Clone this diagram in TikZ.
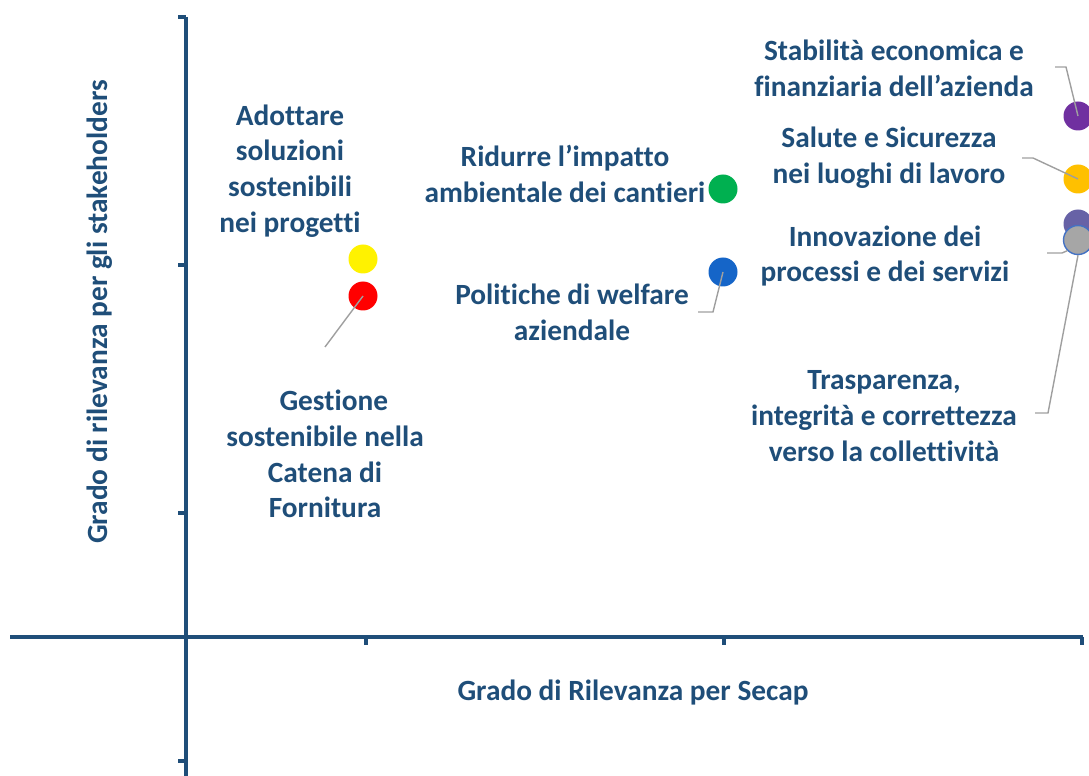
\documentclass[tikz,border=0pt]{standalone}
\usepackage{fontspec}
\setmainfont{Carlito}[Ligatures=NoCommon]
\definecolor{axisblue}{HTML}{1F4E79}
\definecolor{textblue}{HTML}{1F4E79}
\definecolor{dotpurple}{HTML}{7030A0}
\definecolor{dotorange}{HTML}{FFC000}
\definecolor{dotslate}{HTML}{6762A6}
\definecolor{dotgray}{HTML}{A6A6A6}
\definecolor{dotblue}{HTML}{1565C8}
\definecolor{dotgreen}{HTML}{00B050}
\definecolor{outlineblue}{HTML}{4472C4}

\tikzstyle{topic} = [align=center, text=textblue, font=\bfseries\fontsize{16.7}{20.3}\selectfont, inner sep=0pt]
\tikzstyle{bubble} = [circle, minimum size=0.58cm, inner sep=0pt]
\tikzstyle{leader} = [draw=gray!75, line width=0.8pt]
\tikzstyle{axis} = [draw=axisblue, line width=2.2pt]

\begin{document}
\begin{tikzpicture}[x=0.02cm, y=-0.02cm]
    \useasboundingbox (0,0) rectangle (1089,776);

    % Axes
    \draw [axis] (186,17) -- (186,776);
    \draw [axis] (10,637) -- (1083,637);
    \foreach \ty in {17,265,513,761}
        \draw [axis] (178,\ty) -- (186,\ty);
    \foreach \tx in {366,724,1082}
        \draw [axis] (\tx,637) -- (\tx,645);
    \node (xtitle) [topic] at (633,693) {Grado di Rilevanza per Secap};
    \node (ytitle) [topic, rotate=90] at (100,312) {Grado di rilevanza per gli stakeholders};

    % Nodes
    \node (yellow) [bubble, fill=yellow] at (363,259) {};
    \node (red) [bubble, fill=red] at (363,296) {};
    \node (green) [bubble, fill=dotgreen] at (723,189) {};
    \node (blue) [bubble, fill=dotblue] at (723,272) {};
    \node (purple) [bubble, fill=dotpurple] at (1078,116) {};
    \node (orange) [bubble, fill=dotorange] at (1078,179) {};
    \node (slate) [bubble, fill=dotslate] at (1078,224) {};
    \node (gray) [bubble, fill=dotgray, draw=outlineblue, line width=0.8pt] at (1078,240) {};

    \node (adottare) [topic] at (290,171) {Adottare\\soluzioni\\sostenibili\\nei progetti};
    \node (gestione) [topic] at (325,454) {\hspace*{0.6em}Gestione\\sostenibile nella\\Catena di\\Fornitura};
    \node (ridurre) [topic] at (565,174) {Ridurre l’impatto\\ambientale dei cantieri};
    \node (welfare) [topic] at (572,312) {Politiche di welfare\\aziendale};
    \node (stabilita) [topic] at (894,68) {Stabilità economica e\\finanziaria dell’azienda};
    \node (salute) [topic] at (889,158) {Salute e Sicurezza\\nei luoghi di lavoro};
    \node (innovazione) [topic] at (885,256) {Innovazione dei\\processi e dei servizi};
    \node (trasparenza) [topic] at (884,416) {Trasparenza,\\integrità e correttezza\\verso la collettività};

    % Leaders
    \coordinate (redend) at (325,347);
    \coordinate (blueend) at (698,312);
    \coordinate (purpleend) at (1055,67);
    \coordinate (orangeend) at (1022,158);
    \coordinate (grayend) at (1047,253);
    \coordinate (traspend) at (1035,413);

    \draw [leader] (red.center) -- (redend);
    \draw [leader] (blue.center) -- (713,312) -- (blueend);
    \draw [leader] (purple.center) -- (1066,67) -- (purpleend);
    \draw [leader] (orange.center) -- (1033,158) -- (orangeend);
    \draw [leader] (gray.south west) -- (1062,253) -- (grayend);
    \draw [leader] (gray.south) -- (1048,413) -- (traspend);

\end{tikzpicture}
\end{document}
